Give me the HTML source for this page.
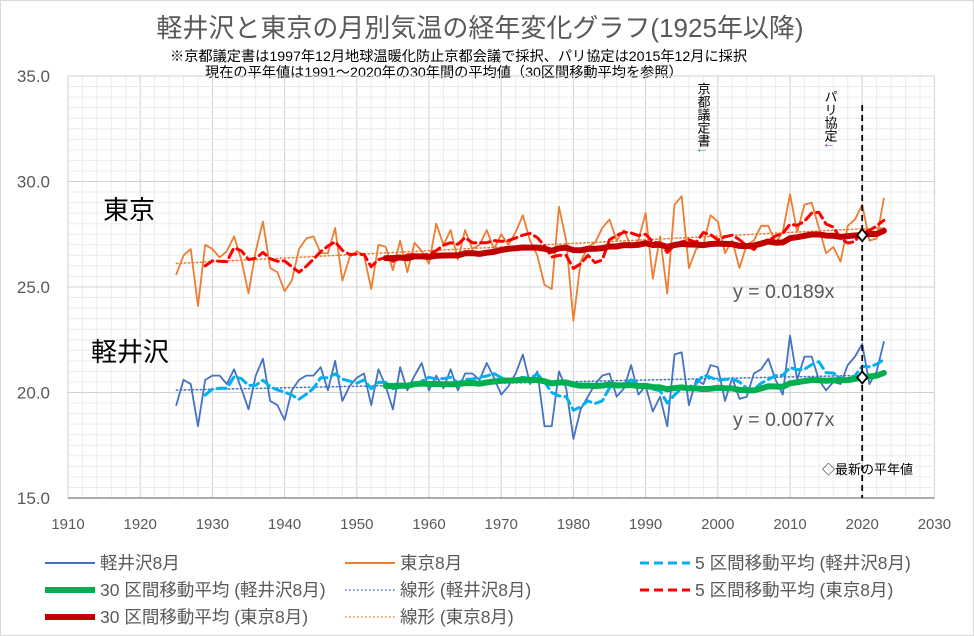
<!DOCTYPE html>
<html><head><meta charset="utf-8"><style>
body{margin:0;background:#fff;}
svg{display:block;font-family:"Liberation Sans","Noto Sans CJK JP",sans-serif;}
</style></head><body>
<svg id="c" width="974" height="636">
<rect x="0.5" y="0.5" width="973" height="635" fill="#fff" stroke="#d9d9d9"/>
<text x="480" y="37" text-anchor="middle" font-size="26" fill="#595959">軽井沢と東京の月別気温の経年変化グラフ(1925年以降)</text>
<text x="170" y="61" font-size="14.2" fill="#000">※京都議定書は1997年12月地球温暖化防止京都会議で採択、パリ協定は2015年12月に採択</text>
<text x="205" y="77" font-size="14.2" fill="#000">現在の平年値は1991～2020年の30年間の平均値（30区間移動平均を参照）</text>
<g id="grid"></g><g id="axes"></g><g id="series"></g>
<text x="103" y="219" font-size="26" fill="#000">東京</text>
<text x="91" y="361" font-size="26" fill="#000">軽井沢</text>
<text x="733" y="298" font-size="19.5" fill="#595959">y = 0.0189x</text>
<text x="733" y="426" font-size="19.5" fill="#595959">y = 0.0077x</text>
<text x="703" y="82" font-size="13" writing-mode="tb" fill="#000">京都議定書<tspan fill="#00a050">↓</tspan></text>
<text x="830" y="90" font-size="13" writing-mode="tb" fill="#000">パリ協定<tspan fill="#7030a0">↓</tspan></text>
<text x="822" y="474" font-size="13" fill="#000">◇最新の平年値</text>
<g id="legend"></g>
</svg>
<script>
const years=[];for(let y=1925;y<=2023;y++)years.push(y);
const tokyo=[25.6,26.5,26.8,24.1,27.0,26.8,26.4,26.7,27.4,26.3,24.7,26.7,28.1,25.9,25.7,24.8,25.3,26.8,27.3,27.4,26.6,26.6,27.8,25.3,26.4,26.7,26.5,24.9,27.0,26.9,25.8,27.2,25.7,27.1,26.7,26.1,28.0,27.0,27.7,26.3,27.7,26.8,27.0,27.7,26.8,27.5,27.0,27.6,28.4,27.2,26.5,25.1,24.9,28.8,27.2,23.4,26.2,26.9,27.1,27.8,28.2,27.2,27.7,26.9,27.2,28.5,25.4,27.4,24.7,28.9,29.3,25.9,26.8,27.0,28.4,28.1,26.6,27.2,25.9,27.0,27.2,27.9,27.9,27.1,27.6,29.4,27.6,28.9,29.0,27.8,26.6,26.9,26.2,27.9,28.2,28.9,27.2,27.3,29.2];
const karuizawa=[19.4,20.6,20.4,18.4,20.6,20.8,20.8,20.4,21.1,20.2,19.2,20.8,21.6,19.6,19.4,18.7,20.1,20.6,20.8,20.8,21.2,20.1,21.5,19.6,20.3,20.7,20.9,19.4,21.1,20.3,19.2,21.2,20.1,20.8,21.4,20.1,20.8,20.2,21.1,20.1,20.9,20.9,20.6,21.4,20.7,19.9,20.3,20.9,21.8,20.4,21.0,18.4,18.4,21.0,20.2,17.8,19.2,19.8,20.4,20.8,20.9,19.8,20.2,21.3,19.9,20.3,19.1,19.8,18.4,21.8,21.9,19.4,20.6,20.4,21.3,21.2,19.6,20.7,19.7,19.8,20.9,21.1,21.6,20.6,19.9,22.7,20.6,21.7,21.7,20.6,20.1,20.5,20.4,21.3,21.7,22.3,20.4,21.0,22.4];
const xTicks=[1910,1920,1930,1940,1950,1960,1970,1980,1990,2000,2010,2020,2030];
const yTicks=[15,20,25,30,35];
const X=y=>68+(y-1910)*7.22, Y=v=>498-(v-15)*(422/20);
const NS='http://www.w3.org/2000/svg';
function mk(p,t,a){const e=document.createElementNS(NS,t);for(const k in a)e.setAttribute(k,a[k]);p.appendChild(e);return e;}
const G=document.getElementById('grid'),A=document.getElementById('axes'),S=document.getElementById('series'),L=document.getElementById('legend');
for(let y=1910;y<=2030;y+=2){const l=mk(G,'line',{x1:X(y),x2:X(y),y1:Y(35),y2:Y(15),stroke:y%10==0?'#d0d0d0':'#ececec','stroke-width':1});

}
for(let v=15;v<=35;v+=0.5){const l=mk(G,'line',{x1:X(1910),x2:X(2030),y1:Y(v),y2:Y(v),stroke:v%5==0?'#d0d0d0':'#ececec','stroke-width':1});

}
const ax=mk(A,'line',{x1:X(1910),x2:X(2030),y1:Y(15),y2:Y(15),stroke:'#595959','stroke-width':1});


xTicks.forEach(t=>{const e=mk(A,'text',{x:X(t),y:529,'text-anchor':'middle','font-size':15,fill:'#595959'});e.textContent=t;

});
yTicks.forEach(t=>{const e=mk(A,'text',{x:50,y:Y(t)+6,'text-anchor':'end','font-size':17,fill:'#595959'});e.textContent=t.toFixed(1);

});
function ma(arr,n){const r=[];for(let i=n-1;i<arr.length;i++){let s=0;for(let j=i-n+1;j<=i;j++)s+=arr[j];r.push([years[i],s/n]);}return r;}
function fit(arr){const n=arr.length;let sx=0,sy=0,sxx=0,sxy=0;years.forEach((x,i)=>{sx+=x;sy+=arr[i];sxx+=x*x;sxy+=x*arr[i];});const b=(n*sxy-sx*sy)/(n*sxx-sx*sx),a=(sy-b*sx)/n;return [[years[0],a+b*years[0]],[years[n-1],a+b*years[n-1]]];}
function line(pts,st,name){const p=mk(S,'polyline',Object.assign({points:pts.map(q=>X(q[0])+','+Y(q[1])).join(' '),fill:'none','stroke-linejoin':'round','stroke-linecap':'round'},st));

}
const pair=arr=>years.map((y,i)=>[y,arr[i]]);
line(fit(karuizawa),{stroke:'#4472c4','stroke-width':1.5,'stroke-dasharray':'1.5 2.5'},'trend-karuizawa');
line(fit(tokyo),{stroke:'#ed7d31','stroke-width':1.5,'stroke-dasharray':'1.5 2.5'},'trend-tokyo');
line(pair(karuizawa),{stroke:'#4472c4','stroke-width':1.8},'series-karuizawa-aug');
line(pair(tokyo),{stroke:'#ed7d31','stroke-width':1.8},'series-tokyo-aug');
line(ma(karuizawa,5),{stroke:'#00b0f0','stroke-width':3,'stroke-dasharray':'9 5'},'ma5-karuizawa');
line(ma(tokyo,5),{stroke:'#ff0000','stroke-width':3,'stroke-dasharray':'9 5'},'ma5-tokyo');
const k30=ma(karuizawa,30),t30=ma(tokyo,30);
line(k30,{stroke:'#00b050','stroke-width':6},'ma30-karuizawa');
line(t30,{stroke:'#c00000','stroke-width':6},'ma30-tokyo');
const vl=mk(S,'line',{x1:X(2020),x2:X(2020),y1:105,y2:Y(15),stroke:'#000','stroke-width':1.8,'stroke-dasharray':'6 4'});


[k30,t30].forEach(s=>{const p=s.find(q=>q[0]==2020);const cx=X(2020),cy=Y(p[1]);
const d=mk(S,'polygon',{points:`${cx},${cy-6} ${cx+5},${cy} ${cx},${cy+6} ${cx-5},${cy}`,fill:'#fff',stroke:'#000','stroke-width':1.8});

});
const leg=[
[45,563,{stroke:'#4472c4','stroke-width':2},'軽井沢8月'],
[345,563,{stroke:'#ed7d31','stroke-width':2},'東京8月'],
[640,563,{stroke:'#00b0f0','stroke-width':3,'stroke-dasharray':'9 5'},'5 区間移動平均 (軽井沢8月)'],
[45,590,{stroke:'#00b050','stroke-width':6},'30 区間移動平均 (軽井沢8月)'],
[345,590,{stroke:'#4472c4','stroke-width':1.5,'stroke-dasharray':'1.5 2.5'},'線形 (軽井沢8月)'],
[640,590,{stroke:'#ff0000','stroke-width':3,'stroke-dasharray':'9 5'},'5 区間移動平均 (東京8月)'],
[45,617,{stroke:'#c00000','stroke-width':6},'30 区間移動平均 (東京8月)'],
[345,617,{stroke:'#ed7d31','stroke-width':1.5,'stroke-dasharray':'1.5 2.5'},'線形 (東京8月)']];
leg.forEach(([x,y,st,t])=>{const g=mk(L,'g',{});


mk(g,'line',Object.assign({x1:x,x2:x+50,y1:y,y2:y},st));
const e=mk(g,'text',{x:x+55,y:y+6,'font-size':17.5,fill:'#595959'});e.textContent=t;});
</script>
</body></html>
